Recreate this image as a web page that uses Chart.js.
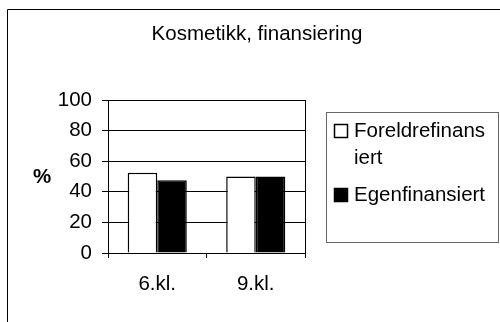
<!DOCTYPE html>
<html lang="no">
<head>
<meta charset="UTF-8">
<title>Kosmetikk, finansiering</title>
<script src="https://cdn.jsdelivr.net/npm/chart.js"></script>
<style>
    html, body { margin: 0; padding: 0; background: #ffffff; }
    #wrap { width: 500px; height: 322px; position: relative; }
</style>
</head>
<body>
<div id="wrap"><canvas id="chart" width="500" height="322"></canvas></div>
<script>
const chartTitle = 'Kosmetikk, finansiering';
const categories = ['6.kl.', '9.kl.'];
const seriesNames = ['Foreldrefinansiert', 'Egenfinansiert'];
const foreldreValues = [52.5, 50];
const egenValues = [47.5, 50];
const yTicks = [0, 20, 40, 60, 80, 100];
// legend text wraps like the original
const legendLines = [['Foreldrefinans', 'iert'], ['Egenfinansiert']];

const FONT = "'Liberation Sans', Arial, sans-serif";
const FS = 20.5;

const decorPlugin = {
    id: 'decor',
    afterDraw(chart) {
        const ctx = chart.ctx;
        const a = chart.chartArea;
        ctx.save();
        // outer frame (only left and top visible)
        ctx.strokeStyle = '#000';
        ctx.lineWidth = 1;
        ctx.beginPath();
        ctx.moveTo(7.5, 322);
        ctx.lineTo(7.5, 9.5);
        ctx.lineTo(500, 9.5);
        ctx.stroke();
        // right edge of plot
        ctx.beginPath();
        ctx.moveTo(Math.round(a.right) + 0.5, a.top);
        ctx.lineTo(Math.round(a.right) + 0.5, a.bottom);
        ctx.stroke();
        // title
        ctx.fillStyle = '#000';
        ctx.font = FS + 'px ' + FONT;
        ctx.textAlign = 'center';
        ctx.textBaseline = 'middle';
        ctx.fillText(chartTitle, 257, 34);
        // % axis label
        ctx.font = 'bold ' + FS + 'px ' + FONT;
        ctx.fillText('%', 42, 177);
        // legend box
        ctx.strokeStyle = '#666';
        ctx.strokeRect(326.5, 112.5, 172, 130);
        ctx.font = FS + 'px ' + FONT;
        ctx.textAlign = 'left';
        const rows = [131, 195];
        chart.data.datasets.forEach((ds, i) => {
            const y = rows[i];
            ctx.fillStyle = ds.backgroundColor;
            ctx.fillRect(334, y - 7, 14, 14);
            ctx.strokeStyle = '#000';
            ctx.lineWidth = 1.5;
            ctx.strokeRect(334.5, y - 6.5, 13, 13);
            ctx.fillStyle = '#000';
            legendLines[i].forEach((line, j) => {
                ctx.fillText(line, 354, y + j * 27);
            });
        });
        ctx.restore();
    }
};

new Chart(document.getElementById('chart'), {
    type: 'bar',
    data: {
        labels: categories,
        datasets: [{
            label: seriesNames[0],
            data: foreldreValues,
            backgroundColor: '#ffffff',
            borderColor: '#000000',
            borderWidth: 1.5
        }, {
            label: seriesNames[1],
            data: egenValues,
            backgroundColor: '#000000',
            borderColor: '#000000',
            borderWidth: 1.5
        }]
    },
    options: {
        responsive: false,
        animation: false,
        events: [],
        datasets: {
            bar: { categoryPercentage: 0.6, barPercentage: 1.0 }
        },
        layout: { padding: { left: 0, right: 195, top: 100, bottom: 0 } },
        plugins: {
            legend: { display: false },
            tooltip: { enabled: false },
            title: { display: false }
        },
        scales: {
            x: {
                afterFit(scale) { scale.height = 69; },
                grid: {
                    offset: true,
                    drawOnChartArea: false,
                    color: '#000',
                    tickLength: 5
                },
                border: { display: true, color: '#000', width: 1 },
                ticks: {
                    color: '#000',
                    font: { family: FONT, size: FS },
                    padding: 14
                }
            },
            y: {
                min: 0,
                max: 100,
                afterFit(scale) { scale.width = 108; },
                afterBuildTicks(scale) { scale.ticks = yTicks.map(v => ({ value: v })); },
                grid: {
                    color: '#000',
                    tickLength: 6
                },
                border: { display: true, color: '#000', width: 1 },
                ticks: {
                    color: '#000',
                    font: { family: FONT, size: FS },
                    padding: 10
                }
            }
        }
    },
    plugins: [decorPlugin]
});
</script>
</body>
</html>
